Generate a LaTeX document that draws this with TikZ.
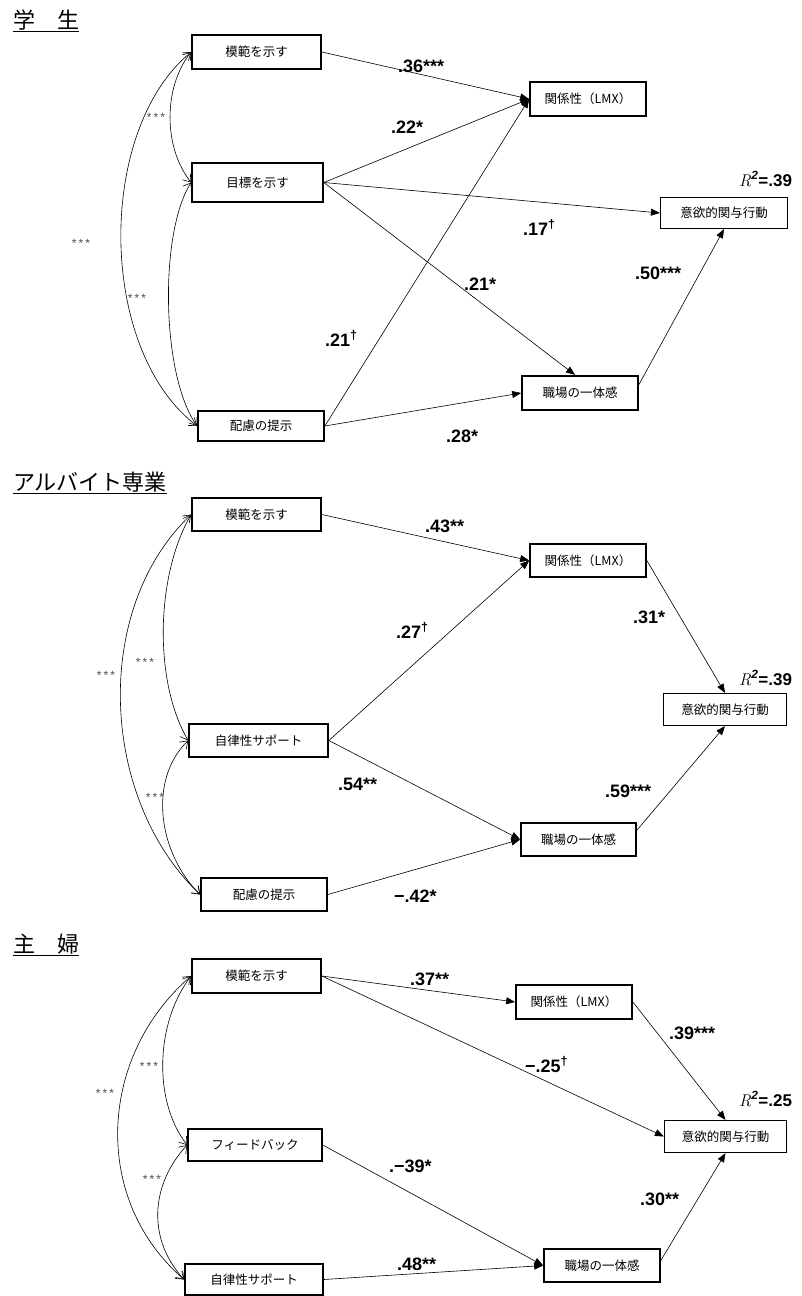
\documentclass[tikz,border=0pt]{standalone}
\usepackage{fontspec}
\newfontfamily\jpf{Noto Sans CJK JP}
\newfontfamily\numf{Liberation Sans}
\usetikzlibrary{arrows.meta}
\newcommand{\rsqr}[1]{\textit{R}\textsuperscript{\numf\bfseries\itshape 2}{\numf\bfseries =#1}}

\begin{document}
\begin{tikzpicture}[x=1pt,y=-1pt,>={Triangle[length=9pt,width=7pt]},
  box/.style={draw,line width=2.2pt,inner sep=0pt,minimum height=34pt,font=\jpf\fontsize{12.5}{14}\selectfont},
  thinbox/.style={box,line width=1.2pt},
  eff/.style={->,line width=0.6pt},
  corr/.style={{Straight Barb[length=7pt,width=10pt]}-{Straight Barb[length=7pt,width=10pt]},line width=0.6pt},
  coef/.style={anchor=base west,inner sep=0pt,font=\numf\fontsize{18}{20}\selectfont\bfseries},
  sig/.style={inner sep=0pt,text=black!70,font=\numf\fontsize{12}{13}\selectfont},
  rsq/.style={anchor=base west,inner sep=0pt,font=\fontsize{17}{19}\selectfont},
  sec/.style={anchor=base west,inner sep=0pt,font=\jpf\fontsize{22}{24}\selectfont}]
\useasboundingbox (0,0) rectangle (801,1296);

\node[sec] (t1) at (13,28) {\underline{学　生}};
\node[box,minimum width=128.5pt] (m1) at (256.5,52) {模範を示す};
\node[box,minimum width=130.5pt,minimum height=38.5pt] (g1) at (257.5,182.5) {目標を示す};
\node[box,minimum width=115.5pt] (l1) at (588,99) {関係性（LMX）};
\node[thinbox,minimum width=127pt,minimum height=31pt] (a1) at (724,213) {意欲的関与行動};
\node[box,minimum width=115.5pt] (s1) at (580,393) {職場の一体感};
\node[box,minimum width=125.5pt,minimum height=30.5pt] (c1) at (261,426) {配慮の提示};

\draw[eff] (m1.east) -- (l1.west);
\draw[eff] (g1.east) -- (l1.west);
\draw[eff] (g1.east) -- (a1.west);
\draw[eff] (g1.east) -- ([xshift=-5pt]s1.north);
\draw[eff] (c1.east) -- (l1.west);
\draw[eff] (c1.east) -- (s1.west);
\draw[eff] (s1.8) -- (a1.south);
\draw[corr] (m1.west) .. controls +(-28,35) and +(-28,-35) .. (g1.west);
\draw[corr] (g1.west) .. controls +(-32,50) and +(-36,-50) .. (c1.west);
\draw[corr] (m1.west) .. controls +(-95,78) and +(-100,-76) .. (c1.west);

\node[coef] (k11) at (398,72) {.36***};
\node[coef] (k12) at (391,133) {.22*};
\node[coef] (k13) at (523,235) {.17\textsuperscript{†}};
\node[coef] (k14) at (464,290) {.21*};
\node[coef] (k15) at (635,279) {.50***};
\node[coef] (k16) at (325,346) {.21\textsuperscript{†}};
\node[coef] (k17) at (446,442) {.28*};
\node[sig] (p11) at (156,117) {*\hspace{2pt}*\hspace{2pt}*};
\node[sig] (p12) at (81,243) {*\hspace{2pt}*\hspace{2pt}*};
\node[sig] (p13) at (137,298) {*\hspace{2pt}*\hspace{2pt}*};
\node[rsq] (r1) at (739,186) {\rsqr{.39}};

\node[sec] (t2) at (13,490) {\underline{アルバイト専業}};
\node[box,minimum width=128.5pt,minimum height=33pt] (m2) at (256.5,514.5) {模範を示す};
\node[box,minimum width=115.5pt,minimum height=33pt] (l2) at (588,560.5) {関係性（LMX）};
\node[thinbox,minimum width=123pt,minimum height=32pt] (a2) at (725,709.5) {意欲的関与行動};
\node[box,minimum width=138.5pt,minimum height=33pt] (j2) at (258.5,740.5) {自律性サポート};
\node[box,minimum width=114.5pt,minimum height=33pt] (s2) at (578.5,839.5) {職場の一体感};
\node[box,minimum width=125.5pt,minimum height=33pt] (c2) at (264,894.5) {配慮の提示};

\draw[eff] (m2.east) -- (l2.west);
\draw[eff] (j2.east) -- (l2.west);
\draw[eff] (l2.east) -- (a2.north);
\draw[eff] (j2.east) -- (s2.west);
\draw[eff] (c2.east) -- (s2.west);
\draw[eff] (s2.9) -- (a2.south);
\draw[corr] (m2.west) .. controls +(-35,60) and +(-35,-60) .. (j2.west);
\draw[corr] (j2.west) .. controls +(-41,40) and +(-41,-40) .. (c2.west);
\draw[corr] (m2.west) .. controls +(-100,95) and +(-100,-95) .. (c2.west);

\node[coef] (k21) at (425,532) {.43**};
\node[coef] (k22) at (396,638) {.27\textsuperscript{†}};
\node[coef] (k23) at (633,623) {.31*};
\node[coef] (k24) at (338,790) {.54**};
\node[coef] (k25) at (605,797) {.59***};
\node[coef] (k26) at (394,902) {−.42*};
\node[sig] (p21) at (106,675) {*\hspace{2pt}*\hspace{2pt}*};
\node[sig] (p22) at (145,662) {*\hspace{2pt}*\hspace{2pt}*};
\node[sig] (p23) at (155,797) {*\hspace{2pt}*\hspace{2pt}*};
\node[rsq] (r2) at (739,685) {\rsqr{.39}};

\node[sec] (t3) at (13,952) {\underline{主　婦}};
\node[box,minimum width=128.5pt] (m3) at (256.5,976) {模範を示す};
\node[box,minimum width=115.5pt] (l3) at (574,1002) {関係性（LMX）};
\node[thinbox,minimum width=122pt,minimum height=32pt] (a3) at (725.5,1136.5) {意欲的関与行動};
\node[box,minimum width=133.5pt,minimum height=32pt] (f3) at (255,1145) {フィードバック};
\node[box,minimum width=137.5pt,minimum height=31.5pt] (j3) at (254,1279.5) {自律性サポート};
\node[box,minimum width=115.5pt,minimum height=33pt] (s3) at (602,1265.5) {職場の一体感};

\draw[eff] (m3.east) -- (l3.west);
\draw[eff] (m3.east) -- (a3.west);
\draw[eff] (l3.east) -- (a3.north);
\draw[eff] (f3.east) -- (s3.west);
\draw[eff] (j3.east) -- (s3.west);
\draw[eff] (s3.5) -- (a3.south);
\draw[corr] (m3.west) .. controls +(-35,45) and +(-35,-45) .. (f3.west);
\draw[corr] (f3.west) .. controls +(-37,40) and +(-37,-40) .. (j3.west);
\draw[corr] (m3.west) .. controls +(-93,80) and +(-93,-80) .. (j3.west);

\node[coef] (k31) at (410,985) {.37**};
\node[coef] (k32) at (669,1039) {.39***};
\node[coef] (k33) at (525,1072) {−.25\textsuperscript{†}};
\node[coef] (k34) at (389,1172) {.−39*};
\node[coef] (k35) at (640,1205) {.30**};
\node[coef] (k36) at (397,1270) {.48**};
\node[sig] (p31) at (105,1093) {*\hspace{2pt}*\hspace{2pt}*};
\node[sig] (p32) at (149,1066) {*\hspace{2pt}*\hspace{2pt}*};
\node[sig] (p33) at (152,1179) {*\hspace{2pt}*\hspace{2pt}*};
\node[rsq] (r3) at (739,1106) {\rsqr{.25}};
\end{tikzpicture}
\end{document}
